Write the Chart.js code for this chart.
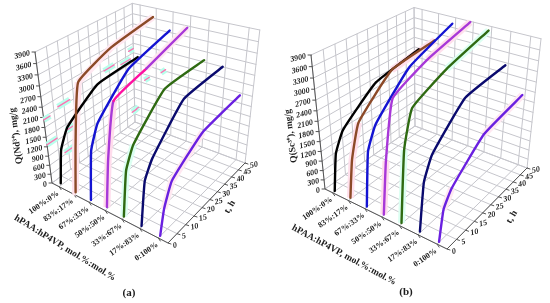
<!DOCTYPE html>
<html>
<head>
<meta charset="utf-8">
<style>
  html, body { margin: 0; background: #fff; }
  canvas { display: block; filter: blur(0.35px); }
</style>
<script src="https://cdn.jsdelivr.net/npm/chart.js@4"></script>
</head>
<body>
<canvas id="chart" width="550" height="303"></canvas>
<script>
const compLabels = ["100%:0%", "83%:17%", "67%:33%", "50%:50%", "33%:67%", "17%:83%", "0:100%"];
const hourTicks = [0, 5, 10, 15, 20, 25, 30, 35, 40, 45, 50];
const qTicks = [0, 300, 600, 900, 1200, 1500, 1800, 2100, 2400, 2700, 3000, 3300, 3600, 3900];
const sampleHours = [1, 3, 7, 24, 48];

// sorption on the Nd panel, one list per composition
const nd100 = [70, 1080, 1615, 2310, 2385];
const nd83 = [15, 1330, 3100, 3510, 3705];
const nd67 = [25, 1490, 2130, 3060, 3430];
const nd50 = [60, 1460, 2925, 3210, 3620];
const nd33 = [30, 1350, 1920, 2815, 2835];
const nd17 = [20, 1290, 1755, 2710, 2785];
const nd0 = [10, 735, 1355, 1975, 2120];

// same for the Sc panel
const sc100 = [10, 1110, 1665, 2475, 2755];
const sc83 = [40, 1140, 2080, 3000, 3165];
const sc67 = [15, 1615, 2220, 3225, 3780];
const sc50 = [20, 1565, 3120, 3590, 3950];
const sc33 = [30, 2090, 3050, 3490, 3845];
const sc17 = [40, 1410, 2005, 2895, 3010];
const sc0 = [10, 880, 1290, 2070, 2305];

// leftover cyan and pink dashes on the Nd panel: comp position 0..1, hour, sorption
const ndDashComp = [0, 0, 0, 0, 0, 0, 0, 0, 0.04, 0.02, 0.15, 0.3];
const ndDashHour = [10, 0, 2, 13, 11, 35, 45, 50, 50, 50, 50, 50];
const ndDashQ = [2150, 2030, 1265, 1310, 660, 2380, 2260, 2530, 590, 500, 1750, 2150];

const colors = ["#000000", "#8c4a28", "#1414d2", "#a838d8", "#2f6a12", "#0a0a6e", "#6a20e0"];
const GRID = "#c6c6cc";
const AXIS = "#555555";
const HOUR_MAX = 50, Q_MAX = 3900;

// the corners of each box on the page, floor first, then the top of the left edge
const panels = [
  {
    series: [nd100, nd83, nd67, nd50, nd33, nd17, nd0],
    O: [52, 183], U: [168, 243], V: [135, 122], R: [245, 163], W: [35, 52], g: 0.858,
    qTitle: "Q(Nd³⁺), mg/g", qTitleAt: [16, 136], caption: "(a)", captionAt: [129, 293],
    compTitleAt: [65, 248], compAngle: 31.7, tAt: [230, 207],
    pale: [[1, 0, 2, "#ffe4ee"], [1, 2, 4, "#ffe8f1"], [3, 0, 2, "#ffdcec"], [4, 0, 2, "#dcfff2"], [6, 1, 3, "#ffe8f1"], [3, 3, 4, "#ffe8f1"]]
  },
  {
    series: [sc100, sc83, sc67, sc50, sc33, sc17, sc0],
    O: [325, 189], U: [447, 249], V: [415, 126], R: [527, 168], W: [311, 55], g: 0.875,
    qTitle: "Q(Sc³⁺), mg/g", qTitleAt: [291, 136], caption: "(b)", captionAt: [406, 292],
    compTitleAt: [344, 255], compAngle: 28.5, tAt: [512, 217],
    pale: [[1, 0, 2, "#ffe0ec"], [1, 3, 4, "#ffe0ec"], [3, 0, 1, "#ffdcec"], [3, 3, 4, "#ffe0ec"], [4, 0, 1, "#dcfff2"], [4, 3, 4, "#dcfff2"], [6, 1, 2, "#ffe8f1"], [6, 3, 4, "#ffe8f1"]]
  }
];

panels.forEach(p => {
  const a = [p.R[0] - p.U[0], p.R[0] - p.V[0], p.R[0] - p.O[0]];
  const b = [p.R[1] - p.U[1], p.R[1] - p.V[1], p.R[1] - p.O[1]];
  const d = a[0] * b[1] - a[1] * b[0];
  p.a = (a[2] * b[1] - a[1] * b[2]) / d;
  p.b = (a[0] * b[2] - a[2] * b[0]) / d;
});

// u across compositions, v along hours, w up the sorption axis, all 0..1
function project(p, u, v, w) {
  const rest = 1 - u - v - w;
  const den = rest + p.a * u + p.b * v + p.g * w;
  const at = k => (p.O[k] * rest + p.a * u * p.U[k] + p.b * v * p.V[k] + p.g * w * p.W[k]) / den;
  return { x: at(0), y: at(1) };
}

const datasets = [];
function addLine(data, color, width, extra) {
  datasets.push(Object.assign({
    data: data, borderColor: color, borderWidth: width,
    showLine: true, pointRadius: 0, borderCapStyle: "round", borderJoinStyle: "round", tension: 0
  }, extra));
}

const compStep = 1 / compLabels.length;
const compCentres = compLabels.map((c, i) => (i + 0.5) * compStep);

panels.forEach(p => {
  // walls and floor, the composition lines run through the category centres
  [0, ...compCentres, 1].forEach(u => {
    addLine([project(p, u, 0, 0), project(p, u, 1, 0), project(p, u, 1, 1)], GRID, 1);
  });
  hourTicks.forEach(h => {
    const v = h / HOUR_MAX;
    addLine([project(p, 0, v, 1), project(p, 0, v, 0), project(p, 1, v, 0)], GRID, 1);
  });
  qTicks.forEach(q => {
    const w = q / Q_MAX;
    addLine([project(p, 0, 0, w), project(p, 0, 1, w), project(p, 1, 1, w)], GRID, 1);
  });

  // axis edges and tick marks
  addLine([project(p, 0, 0, 1), project(p, 0, 0, 0), project(p, 1, 0, 0), project(p, 1, 1, 0)], AXIS, 1);
  qTicks.forEach(q => {
    const t = project(p, 0, 0, q / Q_MAX);
    addLine([t, { x: t.x - 3, y: t.y }], AXIS, 1);
  });
  hourTicks.forEach(h => {
    const t = project(p, 1, h / HOUR_MAX, 0);
    addLine([t, { x: t.x + 3, y: t.y + 1 }], AXIS, 1);
  });
  compCentres.forEach(u => {
    const t = project(p, u, 0, 0);
    addLine([t, { x: t.x + 2, y: t.y + 3 }], AXIS, 1);
  });

  if (p === panels[0]) {
    ndDashQ.forEach((q, i) => {
      const u = ndDashComp[i], h = ndDashHour[i];
      const dash = [project(p, u, Math.max(h - 3, 0) / HOUR_MAX, q / Q_MAX), project(p, u, Math.min(h + 3, 50) / HOUR_MAX, q / Q_MAX)];
      addLine(dash, "#b8ffec", 6, { borderCapStyle: "butt" });
      addLine(dash, "#ff70b0", 1.3);
    });
  }

  const curve = i => p.series[i].map((q, k) =>
    project(p, compCentres[i], sampleHours[k] / HOUR_MAX, q / Q_MAX));

  // the pale smears that sit behind some of the curves
  p.pale.forEach(s => {
    addLine(curve(s[0]).slice(s[1], s[2] + 1), s[3], 7, { borderCapStyle: "butt" });
  });

  p.series.forEach((vals, i) => {
    const extra = { tension: 0.12 };
    if (p === panels[0] && i === 3) {
      extra.segment = { borderColor: ctx => ctx.p0DataIndex === 2 ? "#ff10a0" : undefined };
    }
    addLine(curve(i), colors[i], 2.4, extra);
  });
});

function turned(ctx, text, x, y, deg, align) {
  ctx.save();
  ctx.translate(x, y);
  ctx.rotate(deg * Math.PI / 180);
  ctx.textAlign = align;
  ctx.textBaseline = "middle";
  ctx.fillText(text, 0, 0);
  ctx.restore();
}

const labelsPlugin = {
  id: "boxLabels",
  afterDraw(chart) {
    const ctx = chart.ctx;
    ctx.fillStyle = "#1c1c1c";
    panels.forEach(p => {
      ctx.font = "italic bold 8px 'Liberation Serif'";
      qTicks.forEach(q => {
        const t = project(p, 0, 0, q / Q_MAX);
        turned(ctx, String(q), t.x - 5, t.y + 1, -14, "right");
      });
      hourTicks.forEach(h => {
        const t = project(p, 1, h / HOUR_MAX, 0);
        turned(ctx, String(h), t.x + 5, t.y + 3, -14, "left");
      });
      ctx.font = "bold 8px 'Liberation Serif'";
      compLabels.forEach((label, i) => {
        const t = project(p, compCentres[i], 0, 0);
        turned(ctx, label, t.x - 1, t.y + 6, -35, "right");
      });
      ctx.font = "bold 9.5px 'Liberation Serif'";
      turned(ctx, "hPAA:hP4VP, mol.%:mol.%", p.compTitleAt[0], p.compTitleAt[1], p.compAngle, "center");
      turned(ctx, p.qTitle, p.qTitleAt[0], p.qTitleAt[1], -97, "center");
      turned(ctx, "t, h", p.tAt[0], p.tAt[1], -60, "center");
      ctx.font = "bold 11px 'Liberation Serif'";
      turned(ctx, p.caption, p.captionAt[0], p.captionAt[1], 0, "center");
    });
  }
};

new Chart(document.getElementById("chart").getContext("2d"), {
  type: "scatter",
  data: { datasets: datasets.reverse() },
  options: {
    responsive: false,
    animation: false,
    layout: { padding: 0 },
    plugins: { legend: { display: false }, tooltip: { enabled: false } },
    scales: {
      x: { type: "linear", min: 0, max: 550, display: false },
      y: { type: "linear", min: 0, max: 303, reverse: true, display: false }
    }
  },
  plugins: [labelsPlugin]
});
</script>
</body>
</html>
